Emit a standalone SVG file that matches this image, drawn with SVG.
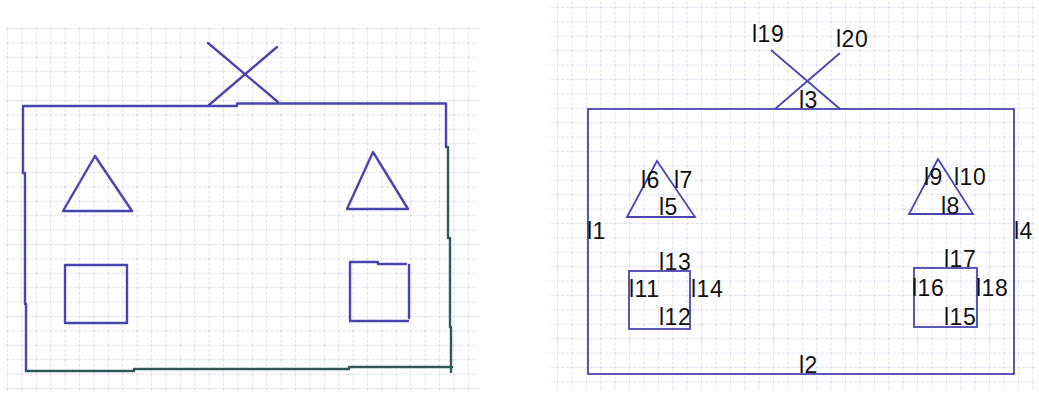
<svg xmlns="http://www.w3.org/2000/svg" width="1039" height="396" viewBox="0 0 1039 396">
<defs>
<pattern id="gridL" patternUnits="userSpaceOnUse" x="7" y="28" width="14.4" height="14.4">
<path d="M0 0V14.4M0 0H14.4" fill="none" stroke="#c4c4ea" stroke-width="1" stroke-dasharray="3 1.5"/>
</pattern>
<pattern id="gridR" patternUnits="userSpaceOnUse" x="557" y="7" width="14.4" height="14.4">
<path d="M0 0V14.4M0 0H14.4" fill="none" stroke="#c4c4ea" stroke-width="1" stroke-dasharray="3 1.5"/>
</pattern>
</defs>
<style>
.sk{fill:none;stroke:#4a44b0;stroke-width:2.4;stroke-linejoin:round;stroke-linecap:round}
.dk{fill:none;stroke:#2f5a58;stroke-width:2.4;stroke-linejoin:round;stroke-linecap:round}
.ln{fill:none;stroke:#4a44b0;stroke-width:1.8;stroke-linejoin:miter}
.lb{font-family:"Liberation Sans",Arial,sans-serif;font-size:23px;letter-spacing:0.5px;fill:#111}
</style>
<rect width="1039" height="396" fill="#fff"/>
<rect x="5" y="27" width="473" height="366" fill="url(#gridL)"/>
<rect x="549" y="0" width="487" height="391" fill="url(#gridR)"/>

<g id="left-sketch">
<g id="sk-house">
<path class="sk" d="M23 173V106H237V103.5H446V147"/>
<path class="dk" d="M446 147H448V238H450V327H451V372"/>
<path class="sk" d="M23 173H25V304H26V371"/>
<path class="dk" d="M26 371H134V369H349V367H452"/>
</g>
<g id="sk-roof">
<path class="sk" d="M208 43L278 102"/>
<path class="sk" d="M277 47L209 105"/>
</g>
<g id="sk-tri-left"><path class="sk" d="M95 156L63 211H132Z"/></g>
<g id="sk-tri-right"><path class="sk" d="M373 152L347 209H408Z"/></g>
<g id="sk-sq-left"><rect class="sk" x="65" y="265" width="62" height="58"/></g>
<g id="sk-sq-right"><path class="sk" d="M378 262H350V321H408M378 262V264H406M409 265V318"/></g>
</g>

<g id="right-model">
<g id="house"><rect class="ln" x="588" y="109" width="426" height="265"/></g>
<g id="roof">
<path class="ln" d="M771 50L840 109"/>
<path class="ln" d="M840 53L775 109"/>
</g>
<g id="tri-left"><path class="ln" d="M657 161L627 217H695Z"/></g>
<g id="tri-right"><path class="ln" d="M938 159L909 214H973Z"/></g>
<g id="sq-left"><rect class="ln" x="629" y="271" width="61" height="58"/></g>
<g id="sq-right"><rect class="ln" x="914" y="268" width="63" height="59"/></g>
<g id="labels">
<text class="lb" x="752" y="42">l19</text>
<text class="lb" x="836" y="47">l20</text>
<text class="lb" x="799" y="108">l3</text>
<text class="lb" x="641" y="188">l6</text>
<text class="lb" x="674" y="188">l7</text>
<text class="lb" x="659" y="215">l5</text>
<text class="lb" x="587" y="239">l1</text>
<text class="lb" x="659" y="270">l13</text>
<text class="lb" x="629" y="297">l11</text>
<text class="lb" x="691" y="297">l14</text>
<text class="lb" x="659" y="325">l12</text>
<text class="lb" x="799" y="373">l2</text>
<text class="lb" x="1014" y="239">l4</text>
<text class="lb" x="924" y="185">l9</text>
<text class="lb" x="954" y="185">l10</text>
<text class="lb" x="941" y="214">l8</text>
<text class="lb" x="944" y="267">l17</text>
<text class="lb" x="912" y="296">l16</text>
<text class="lb" x="976" y="296">l18</text>
<text class="lb" x="944" y="325">l15</text>
</g>
</g>
</svg>
